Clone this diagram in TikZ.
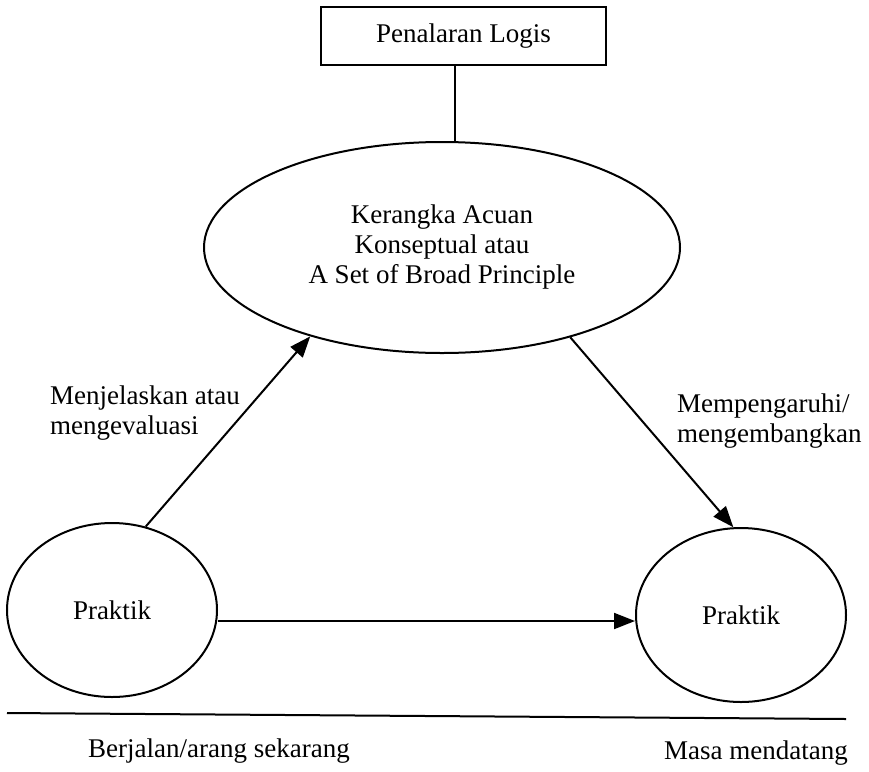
\documentclass[tikz,border=0pt]{standalone}
\usepackage{fontspec}
\setmainfont{Liberation Serif}
\usetikzlibrary{arrows.meta,shapes.geometric}
\begin{document}
\begin{tikzpicture}[x=1pt,y=-1pt,
  every node/.style={font=\fontsize{27}{30}\selectfont},
  line/.style={line width=2pt,draw=black},
  arr/.style={line,-{Triangle[length=21pt,width=16pt]}},
  oval/.style={ellipse,line,inner sep=0pt,align=center},
  lbl/.style={align=left,inner sep=0pt}]
\useasboundingbox (0,0) rectangle (869,771);
\node[line,rectangle,minimum width=285pt,minimum height=58pt,inner sep=0pt] (B) at (463.5,36) {Penalaran Logis};
\node[oval,minimum width=476pt,minimum height=211pt] (K) at (442,247.5) {Kerangka Acuan\\Konseptual atau\\A Set of Broad Principle};
\node[oval,minimum width=210pt,minimum height=174pt] (L) at (112,610) {Praktik};
\node[oval,minimum width=210pt,minimum height=174pt] (R) at (741,615) {Praktik};
\draw[line] ([xshift=-9pt]B.south) -- ([xshift=-9pt]B.south |- K.north);
\draw[arr] (L.68.7) -- (K.214.6);
\draw[arr] (K.325) -- (R.95.8);
\coordinate (hl) at (0,621);
\draw[arr] (L.east |- hl) -- (R.west |- hl);
\node[lbl,anchor=west] (t1) at (50,413) {Menjelaskan atau\\mengevaluasi};
\node[lbl,anchor=west] (t2) at (677,421) {Mempengaruhi/\\mengembangkan};
\coordinate (b1) at (7,713);
\coordinate (b2) at (846,719);
\draw[line] (b1) -- (b2);
\node[lbl,anchor=west] (t3) at (88,751) {Berjalan/arang sekarang};
\node[lbl,anchor=east] (t4) at (848,753) {Masa mendatang};
\end{tikzpicture}
\end{document}
